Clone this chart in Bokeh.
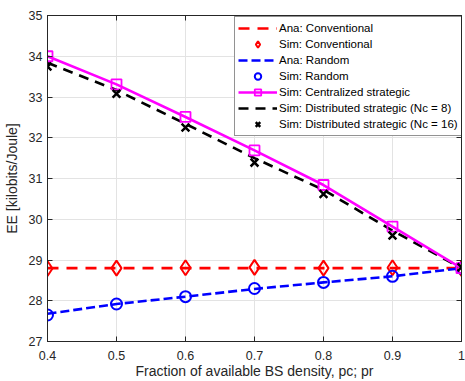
from bokeh.plotting import figure
from bokeh.models import (Legend, LegendItem, LinearAxis, FixedTicker, Range1d)
from bokeh.embed import file_html
from bokeh.resources import INLINE

# ---- data ----
x = [0.4, 0.5, 0.6, 0.7, 0.8, 0.9, 1.0]
ana_conv = [28.8, 28.8, 28.8, 28.8, 28.8, 28.8, 28.8]
sim_conv = [28.79, 28.8, 28.81, 28.82, 28.8, 28.81, 28.79]
ana_rand = [27.68, 27.92, 28.1, 28.29, 28.45, 28.6, 28.8]
sim_rand = [27.65, 27.92, 28.1, 28.3, 28.45, 28.6, 28.8]
cent = [34.0, 33.31, 32.51, 31.69, 30.84, 29.82, 28.8]
dist8 = [33.84, 33.17, 32.34, 31.5, 30.72, 29.72, 28.8]
dist16 = [33.75, 33.08, 32.25, 31.39, 30.62, 29.6, 28.82]

xticks = [0.4, 0.5, 0.6, 0.7, 0.8, 0.9, 1.0]
xtick_labels = {0.4: "0.4", 0.5: "0.5", 0.6: "0.6", 0.7: "0.7", 0.8: "0.8", 0.9: "0.9", 1.0: "1"}
yticks = [27, 28, 29, 30, 31, 32, 33, 34, 35]

xlabel = "Fraction of available BS density, pc; pr"
ylabel = "EE [kilobits/Joule]"
legend_labels = ["Ana: Conventional", "Sim: Conventional", "Ana: Random", "Sim: Random",
                 "Sim: Centralized strategic", "Sim: Distributed strategic (Nc = 8)",
                 "Sim: Distributed strategic (Nc = 16)"]

FONT = "Liberation Sans"
AXC = "#262626"

p = figure(width=465, height=381, output_backend="svg", toolbar_location=None,
           x_range=Range1d(0.4, 1.0), y_range=Range1d(27, 35),
           min_border_left=45, min_border_right=4, min_border_top=15, min_border_bottom=40)
p.outline_line_color = AXC
p.outline_line_width = 1

for ax in (p.xaxis[0], p.yaxis[0]):
    ax.major_tick_in = 5
    ax.major_tick_out = 0
    ax.minor_tick_line_color = None
    ax.axis_line_color = AXC
    ax.major_tick_line_color = AXC
    ax.major_label_text_font = FONT
    ax.major_label_text_font_size = "12.5px"
    ax.major_label_text_color = AXC
    ax.axis_label_text_font = FONT
    ax.axis_label_text_font_size = "14px"
    ax.axis_label_text_font_style = "normal"
    ax.axis_label_text_color = AXC

p.xaxis.ticker = FixedTicker(ticks=xticks)
p.xaxis.major_label_overrides = xtick_labels
p.yaxis.ticker = FixedTicker(ticks=yticks)
p.xaxis.major_label_standoff = 9
p.yaxis.major_label_standoff = 5
p.xaxis.axis_label = xlabel
p.xaxis.axis_label_standoff = 0
p.yaxis.axis_label = ylabel
p.yaxis.axis_label_standoff = 6

for loc, tk in (("right", yticks), ("above", xticks)):
    a = LinearAxis(ticker=FixedTicker(ticks=tk), major_tick_in=5, major_tick_out=0,
                   minor_tick_line_color=None, major_label_text_color=None,
                   major_label_text_font_size="1px",
                   major_label_standoff=0, axis_line_color=AXC,
                   major_tick_line_color=AXC)
    p.add_layout(a, loc)

p.xgrid.ticker = FixedTicker(ticks=xticks)
p.ygrid.ticker = FixedTicker(ticks=yticks)
p.grid.grid_line_color = "#e3e3e3"
p.grid.grid_line_width = 1

lw = 2.6
r_ac = p.line(x, ana_conv, line_color="#ff0000", line_width=lw, line_dash="11 8")
r_sc = p.scatter(x, sim_conv, marker="diamond", size=15, fill_color=None,
                 line_color="#ff0000", line_width=2)
r_ar = p.line(x, ana_rand, line_color="#0000ff", line_width=lw, line_dash="9 4")
r_sr = p.scatter(x, sim_rand, marker="circle", size=11, fill_color=None,
                 line_color="#0000ff", line_width=2)
r_d8 = p.line(x, dist8, line_color="#000000", line_width=lw, line_dash="10 7")
r_cl = p.line(x, cent, line_color="#ff00ff", line_width=lw)
r_cs = p.scatter(x, cent, marker="square", size=10, fill_color=None,
                 line_color="#ff00ff", line_width=1.8)
r_d16 = p.scatter(x, dist16, marker="x", size=11, line_color="#000000", line_width=2.5)

rends = [[r_ac], [r_sc], [r_ar], [r_sr], [r_cl, r_cs], [r_d8], [r_d16]]
items = [LegendItem(label=lab, renderers=r) for lab, r in zip(legend_labels, rends)]
legend = Legend(items=items, location=(187, 205), margin=0, padding=3, spacing=0,
                glyph_width=39, glyph_height=16, label_height=16, label_standoff=2,
                label_text_font=FONT, label_text_font_size="11.5px", label_text_color="#000000",
                border_line_color=AXC, border_line_width=1, background_fill_alpha=1)
p.add_layout(legend)

open("out.html", "w").write(file_html(p, INLINE))
